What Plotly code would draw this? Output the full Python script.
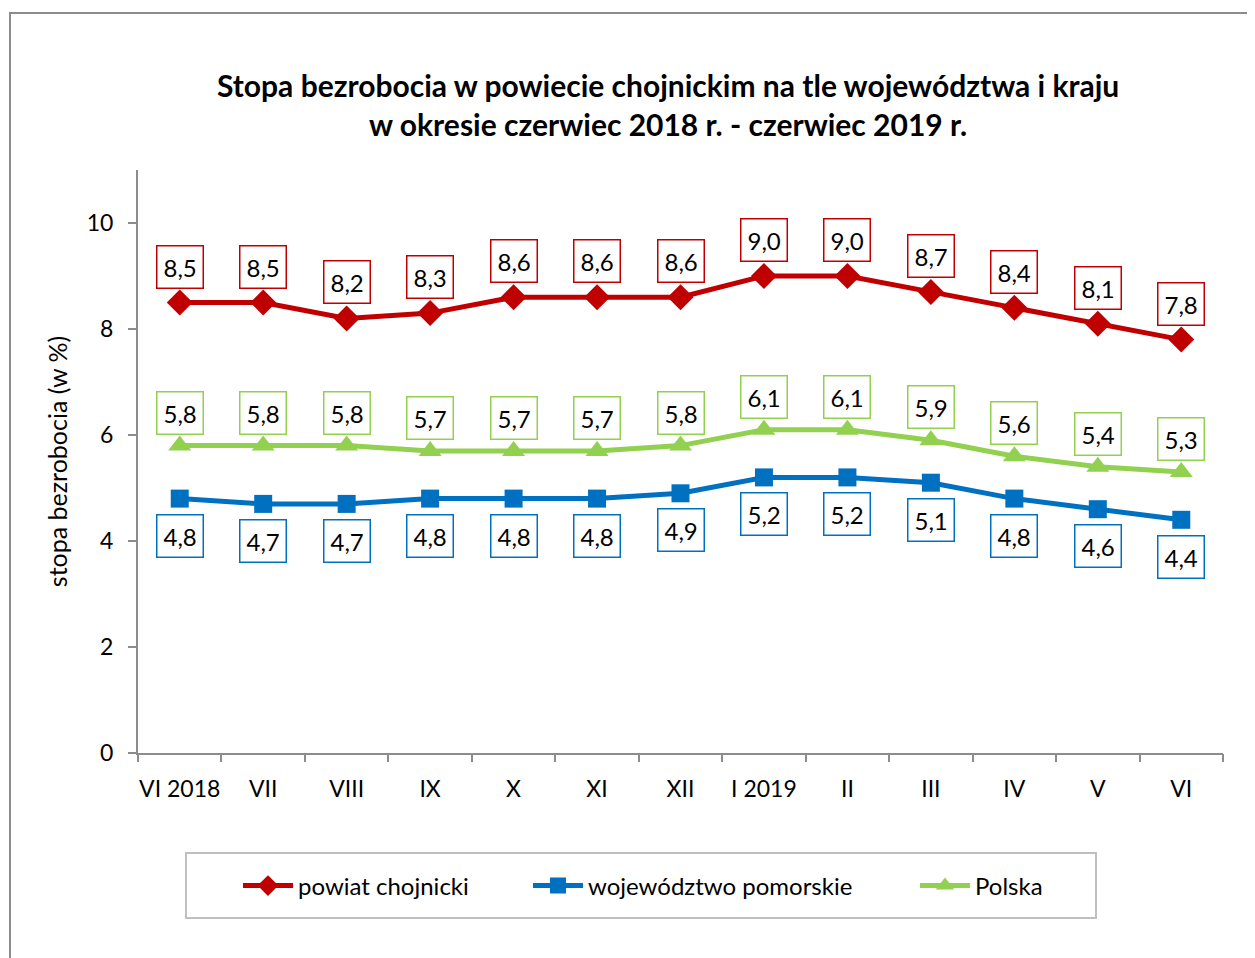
import plotly.graph_objects as go

months = ["VI 2018", "VII", "VIII", "IX", "X", "XI", "XII", "I 2019", "II", "III", "IV", "V", "VI"]
powiat = [8.5, 8.5, 8.2, 8.3, 8.6, 8.6, 8.6, 9.0, 9.0, 8.7, 8.4, 8.1, 7.8]
pomorskie = [4.8, 4.7, 4.7, 4.8, 4.8, 4.8, 4.9, 5.2, 5.2, 5.1, 4.8, 4.6, 4.4]
polska = [5.8, 5.8, 5.8, 5.7, 5.7, 5.7, 5.8, 6.1, 6.1, 5.9, 5.6, 5.4, 5.3]

FONT = "Lato"
RED, BLUE, GREEN = "#C00000", "#0070C0", "#92D050"

OFF = 8  # page body margin
W, H = 1255 - OFF, 958 - OFF
# target screen pixels: plot x 138..1223, y 170..753
L = 138 - OFF
T = 170 - OFF
R = W - (1223 - OFF)
B = H - (753 - OFF)
pw, ph = W - L - R, H - T - B

def px_x(p):
    return (p - OFF - L) / pw

def px_y(p):
    return (H - B - (p - OFF)) / ph

fig = go.Figure()
series = [
    ("powiat chojnicki", powiat, RED, "diamond", 20, 36, "legend", 246),
    ("województwo pomorskie", pomorskie, BLUE, "square", 18, -37, "legend2", 536),
    ("Polska", polska, GREEN, "triangle-up", 20, 33, "legend3", 923),
]
x_idx = list(range(len(months)))
for name, vals, col, sym, ms, _, lg, _lx in series:
    fig.add_trace(go.Scatter(
        x=x_idx, y=vals, name=name, mode="lines+markers",
        line=dict(color=col, width=5),
        marker=dict(symbol=sym, size=ms, color=col),
        legend=lg,
    ))

annotations = []
for name, vals, col, sym, ms, shift, lg, _lx in series:
    for i, v in enumerate(vals):
        annotations.append(dict(
            x=i, y=v, xref="x", yref="y", yshift=shift,
            text=f"{v:.1f}".replace(".", ","), showarrow=False,
            font=dict(family=FONT, size=24, color="black"),
            bgcolor="white", bordercolor=col, borderwidth=1.5, borderpad=6,
        ))

annotations.append(dict(
    x=px_x(668), y=px_y(104), xref="paper", yref="paper",
    text="<b>Stopa bezrobocia w powiecie chojnickim na tle województwa i kraju<br>w okresie czerwiec 2018 r. - czerwiec 2019 r.</b>",
    showarrow=False, font=dict(family=FONT, size=30, color="black"),
    xanchor="center", yanchor="middle", align="center",
))

shapes = [
    dict(type="rect", xref="paper", yref="paper",
         x0=px_x(10), x1=px_x(1275), y0=px_y(980), y1=px_y(13),
         line=dict(color="#8c8c8c", width=2), fillcolor="rgba(0,0,0,0)", layer="below"),
    dict(type="rect", xref="paper", yref="paper",
         x0=px_x(186), x1=px_x(1096), y0=px_y(918), y1=px_y(853),
         line=dict(color="#bfbfbf", width=2), fillcolor="white", layer="below"),
]

legend_common = dict(orientation="h", yanchor="middle", xanchor="left",
                     font=dict(family=FONT, size=24, color="black"),
                     bgcolor="rgba(0,0,0,0)", itemwidth=50)
legends = {}
for name, vals, col, sym, ms, shift, lg, lx in series:
    legends[lg] = dict(legend_common, x=px_x(lx - 8), y=px_y(886))

fig.update_layout(
    width=W, height=H,
    margin=dict(l=L, r=R, t=T, b=B, autoexpand=False),
    paper_bgcolor="white", plot_bgcolor="white",
    font=dict(family=FONT, size=23, color="black"),
    showlegend=True,
    annotations=annotations,
    shapes=shapes,
    xaxis=dict(
        tickmode="array", tickvals=x_idx, ticktext=months,
        range=[-0.5, 12.5], showgrid=False, zeroline=False,
        showline=True, linecolor="#8c8c8c", linewidth=2,
        ticks="", tickfont=dict(family=FONT, size=23), ticklabelstandoff=14,
    ),
    yaxis=dict(
        range=[0, 11], tick0=0, dtick=2, showgrid=False, zeroline=False,
        showline=True, linecolor="#8c8c8c", linewidth=2,
        ticks="outside", ticklen=8, tickcolor="#8c8c8c", tickwidth=2,
        tickfont=dict(family=FONT, size=23), ticklabelstandoff=10,
        title=dict(text="stopa bezrobocia (w %)", font=dict(family=FONT, size=25), standoff=12),
    ),
    **legends,
)

# x-axis boundary ticks via a category overlay axis
fig.add_trace(go.Scatter(x=months, y=[None]*len(months), xaxis="x2", showlegend=False, hoverinfo="skip"))
fig.update_layout(xaxis2=dict(
    overlaying="x", side="bottom", type="category", tickson="boundaries",
    ticks="outside", ticklen=8, tickcolor="#8c8c8c", tickwidth=2,
    showticklabels=False, showgrid=False, showline=False, range=[-0.5, 12.5],
))

fig.write_html("out.html")
